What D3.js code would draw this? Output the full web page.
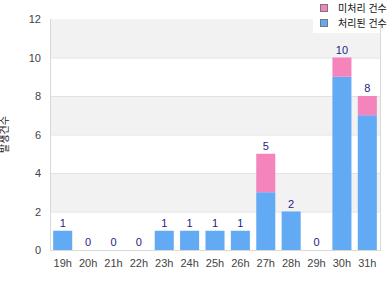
<!DOCTYPE html>
<html>
<head>
<meta charset="utf-8">
<script src="https://cdn.jsdelivr.net/npm/d3@7"></script>
<style>
  body { margin: 0; background: #fff; }
  text { font-family: "Liberation Sans", Arial, "Noto Sans CJK KR", sans-serif; }
</style>
</head>
<body>
<svg id="chart" width="390" height="300"></svg>
<script>
const hours = ['19h', '20h', '21h', '22h', '23h', '24h', '25h', '26h', '27h', '28h', '29h', '30h', '31h'];
const doneCounts = [1, 0, 0, 0, 1, 1, 1, 1, 3, 2, 0, 9, 7];
const openCounts = [0, 0, 0, 0, 0, 0, 0, 0, 2, 0, 0, 1, 1];
const yTicks = [0, 2, 4, 6, 8, 10, 12];
const seriesNames = ['미처리 건수', '처리된 건수'];
const yTitle = '발생건수';

const width = 390;
const height = 300;
const margin = { top: 19, right: 10, bottom: 50, left: 50 };
const colors = { open: '#f484bb', done: '#62aaf4' };

const rows = hours.map((h, i) => ({ hour: h, done: doneCounts[i], open: openCounts[i] }));

const svg = d3.select('#chart');

const xScale = d3.scaleBand()
  .domain(hours)
  .range([margin.left, width - margin.right])
  .paddingInner(0.25)
  .paddingOuter(0.125);
const yScale = d3.scaleLinear()
  .domain([0, 12])
  .range([height - margin.bottom, margin.top]);

// alternating bands
const bands = svg.append('g');
bands.selectAll('rect')
  .data(d3.pairs(yTicks))
  .enter()
  .append('rect')
  .attr('x', margin.left)
  .attr('width', width - margin.right - margin.left)
  .attr('y', (d) => yScale(d[1]))
  .attr('height', (d) => yScale(d[0]) - yScale(d[1]))
  .attr('fill', (d, i) => (i % 2 === 1 ? '#f2f2f2' : '#fff'));

bands.selectAll('line')
  .data(yTicks.slice(1, -1))
  .enter()
  .append('line')
  .attr('x1', margin.left)
  .attr('x2', width - margin.right)
  .attr('y1', (d) => yScale(d) + 0.5)
  .attr('y2', (d) => yScale(d) + 0.5)
  .attr('stroke', '#e2e2e2');

// frame
const frame = svg.append('g').attr('stroke', '#d9d9d9').attr('fill', 'none');
frame.append('path')
  .attr('d', `M${margin.left + 0.5},${margin.top}V${yScale(0) + 0.5}H${width - margin.right + 0.5}V${margin.top}`);

// stacked bars
svg.append('g')
  .selectAll('g')
  .data(d3.stack().keys(['done', 'open'])(rows))
  .enter()
  .append('g')
  .attr('fill', (d) => colors[d.key])
  .selectAll('rect')
  .data((d) => d)
  .enter()
  .append('rect')
  .attr('x', (d) => xScale(d.data.hour))
  .attr('y', (d) => yScale(d[1]))
  .attr('height', (d) => yScale(d[0]) - yScale(d[1]))
  .attr('width', xScale.bandwidth());

// totals
svg.append('g')
  .selectAll('text')
  .data(rows)
  .enter()
  .append('text')
  .text((d) => d.done + d.open)
  .attr('x', (d) => xScale(d.hour) + xScale.bandwidth() / 2)
  .attr('y', (d) => yScale(d.done + d.open) - 4)
  .attr('text-anchor', 'middle')
  .attr('font-size', 11)
  .attr('fill', '#1c1c86');

// axes
const xAxis = svg.append('g')
  .attr('transform', `translate(0, ${yScale(0)})`)
  .call(d3.axisBottom(xScale).tickSize(0).tickPadding(9));
xAxis.select('.domain').remove();
xAxis.selectAll('text').attr('font-size', 11).attr('fill', '#444').style('font-family', '"Liberation Sans", Arial, sans-serif');

const yAxis = svg.append('g')
  .attr('transform', `translate(${margin.left}, 0)`)
  .call(d3.axisLeft(yScale).tickValues(yTicks).tickSize(0).tickPadding(9));
yAxis.select('.domain').remove();
yAxis.selectAll('text').attr('font-size', 11).attr('fill', '#444').style('font-family', '"Liberation Sans", Arial, sans-serif');

svg.append('text')
  .text(yTitle)
  .attr('transform', `translate(8, ${(yScale(0) + yScale(12)) / 2}) rotate(-90)`)
  .attr('text-anchor', 'middle')
  .attr('font-size', 10)
  .attr('fill', '#222');

// legend
const legend = svg.append('g');
legend.append('rect')
  .attr('x', 313).attr('y', 0).attr('width', 67).attr('height', 33)
  .attr('fill', '#fff');
const legendColors = [colors.open, colors.done];
legend.selectAll('rect.key')
  .data(seriesNames)
  .enter()
  .append('rect')
  .attr('class', 'key')
  .attr('x', 320.5)
  .attr('y', (d, i) => 4.5 + i * 15)
  .attr('width', 7)
  .attr('height', 7)
  .attr('fill', (d, i) => legendColors[i])
  .attr('stroke', '#777');
legend.selectAll('text')
  .data(seriesNames)
  .enter()
  .append('text')
  .text((d) => d)
  .attr('x', 338)
  .attr('y', (d, i) => 12 + i * 15)
  .attr('font-size', 10)
  .attr('fill', '#111');
</script>
</body>
</html>
